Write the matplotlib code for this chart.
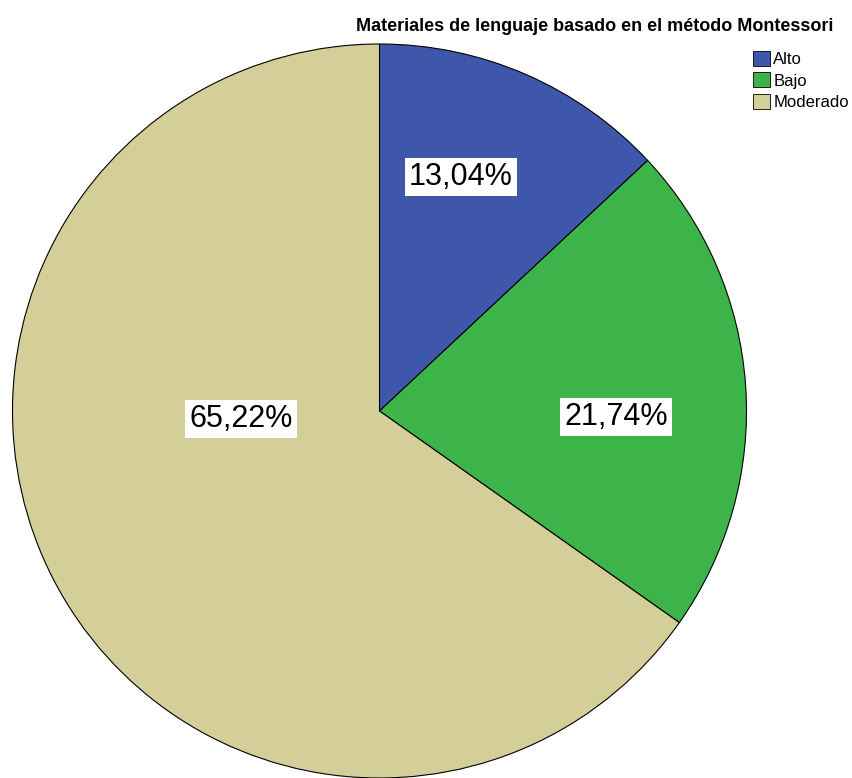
import numpy as np
import matplotlib
matplotlib.use("Agg")
import matplotlib.pyplot as plt
from matplotlib.patches import Patch

# ── Data ─────────────────────────────────────────────────────────────────────
categories = ["Alto", "Bajo", "Moderado"]
percentages = [13.04, 21.74, 65.22]
pct_labels = ["13,04%", "21,74%", "65,22%"]
title = "Materiales de lenguaje basado en el método Montessori"

# ── Style ────────────────────────────────────────────────────────────────────
COLORS = ["#3E57AB", "#3CB44A", "#D4CE98"]
# label placement (angle deg, fraction of radius) per slice
LABEL_POS = [(70.8, 0.675), (-1.45, 0.645), (183.3, 0.378)]

plt.rcParams["font.family"] = ["Liberation Sans", "DejaVu Sans"]

W, H = 852, 778
fig = plt.figure(figsize=(W / 100, H / 100), dpi=100)
ax = fig.add_axes([0, 0, 1, 1])

cx, cy, r = 379.5, H - 411, 367
ax.pie(
    percentages,
    colors=COLORS,
    startangle=90,
    counterclock=False,
    center=(cx, cy),
    radius=r,
    wedgeprops=dict(edgecolor="black", linewidth=0.8),
    frame=True,
)
ax.set_xlim(0, W)
ax.set_ylim(0, H)
ax.set_aspect("equal")
ax.axis("off")

for lab, (ang, frac) in zip(pct_labels, LABEL_POS):
    a = np.deg2rad(ang)
    ax.text(cx + frac * r * np.cos(a), cy + frac * r * np.sin(a), lab,
            ha="center", va="center", fontsize=22,
            bbox=dict(facecolor="white", edgecolor="none", pad=3))

fig.text(595 / W, 1 - 31 / H, title, ha="center", va="baseline",
         fontsize=13, fontweight="bold")

handles = [Patch(facecolor=c, edgecolor="black", linewidth=0.6) for c in COLORS]
fig.legend(handles, categories, loc="upper left",
           bbox_to_anchor=(750 / W, 1 - 48 / H), frameon=False,
           fontsize=12, handlelength=1.0, handleheight=1.0,
           handletextpad=0.2, labelspacing=0.3, borderpad=0.2,
           borderaxespad=0)

fig.savefig("out.png", dpi=100, facecolor="white")
